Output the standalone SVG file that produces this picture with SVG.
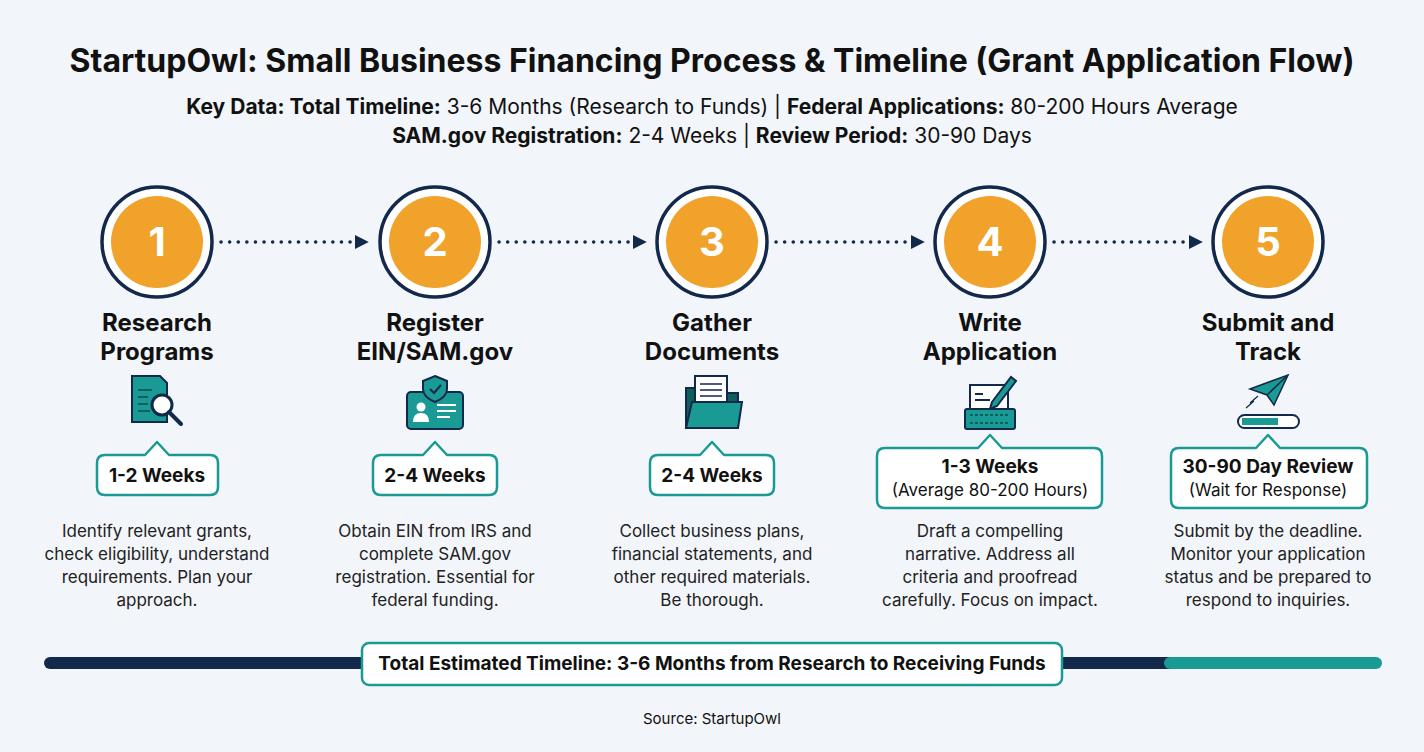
<svg xmlns="http://www.w3.org/2000/svg" width="1424" height="752" viewBox="0 0 1424 752">
<defs>
<style>
text{font-family:"Inter","Liberation Sans",sans-serif;fill:#111;text-anchor:middle}
.ring{fill:#fff;stroke:#13294B;stroke-width:3.5}
.core{fill:#F0A22B}
.num{font-size:40px;font-weight:700;fill:#fff}
.ttl{font-size:24px;font-weight:700}
.bdg{fill:#fff;stroke:#1A9A95;stroke-width:2.5;stroke-linejoin:round}
.bt{font-size:19px;font-weight:700}
.bs{font-size:17px}
.d{font-size:17px;fill:#222}
.conn{stroke:#13294B;stroke-width:3.5;stroke-dasharray:0.1 8.5;stroke-linecap:round;fill:none}
.ic{fill:#1A9A95;stroke:#13294B;stroke-width:2}
.il{stroke:#0E5E5B;stroke-width:2;fill:none}
</style>
<marker id="ah" viewBox="0 0 10 10" refX="8" refY="5" markerWidth="4" markerHeight="4" orient="auto"><path d="M0,0L10,5L0,10z" fill="#13294B"/></marker>
</defs>
<rect width="1424" height="752" fill="#F2F5F9"/>
<text x="712" y="72" style="font-size:32px;font-weight:700">StartupOwl: Small Business Financing Process &amp; Timeline (Grant Application Flow)</text>
<text x="712" y="114" style="font-size:21px"><tspan font-weight="700">Key Data: Total Timeline:</tspan> 3-6 Months (Research to Funds) | <tspan font-weight="700">Federal Applications:</tspan> 80-200 Hours Average</text>
<text x="712" y="143" style="font-size:21px"><tspan font-weight="700">SAM.gov Registration:</tspan> 2-4 Weeks | <tspan font-weight="700">Review Period:</tspan> 30-90 Days</text>

<g id="connectors">
<path class="conn" d="M221,242H366" marker-end="url(#ah)"/>
<path class="conn" d="M499,242H644" marker-end="url(#ah)"/>
<path class="conn" d="M776,242H922" marker-end="url(#ah)"/>
<path class="conn" d="M1054,242H1200" marker-end="url(#ah)"/>
</g>

<g id="step1">
<circle class="ring" cx="157" cy="242" r="55"/><circle class="core" cx="157" cy="242" r="46"/>
<text class="num" x="157" y="256">1</text>
<text class="ttl" x="157" y="331">Research</text><text class="ttl" x="157" y="360">Programs</text>
<path class="ic" d="M132,376H160L167,383V422H132Z"/>
<path class="il" d="M138,390H152M138,397H148M138,404H148M138,411H150"/>
<circle cx="162" cy="405" r="10" fill="#fff" stroke="#13294B" stroke-width="3"/>
<path d="M169,412L181,424" stroke="#13294B" stroke-width="4" stroke-linecap="round"/>
<path class="bdg" d="M105,455H145L157,442L169,455H210Q218,455 218,463V487Q218,495 210,495H105Q97,495 97,487V463Q97,455 105,455Z"/>
<text class="bt" x="157" y="482">1-2 Weeks</text>
<text class="d" x="157" y="537">Identify relevant grants,</text><text class="d" x="157" y="560">check eligibility, understand</text><text class="d" x="157" y="583">requirements. Plan your</text><text class="d" x="157" y="606">approach.</text>
</g>

<g id="step2">
<circle class="ring" cx="435" cy="242" r="55"/><circle class="core" cx="435" cy="242" r="46"/>
<text class="num" x="435" y="256">2</text>
<text class="ttl" x="435" y="331">Register</text><text class="ttl" x="435" y="360">EIN/SAM.gov</text>
<rect class="ic" x="407" y="392" width="56" height="37" rx="4"/>
<path d="M435,376L447,381V389Q447,397 435,402Q423,397 423,389V381Z" fill="#1A9A95" stroke="#13294B" stroke-width="2"/>
<path d="M430,389L434,393L441,385" stroke="#13294B" stroke-width="2" fill="none"/>
<circle cx="421" cy="407" r="4.5" fill="#fff"/><path d="M413,422Q413,413 421,413Q429,413 429,422Z" fill="#fff"/>
<path d="M437,405H456M437,411H456M437,417H450" stroke="#fff" stroke-width="2"/>
<path class="bdg" d="M381,455H423L435,442L447,455H489Q497,455 497,463V487Q497,495 489,495H381Q373,495 373,487V463Q373,455 381,455Z"/>
<text class="bt" x="435" y="482">2-4 Weeks</text>
<text class="d" x="435" y="537">Obtain EIN from IRS and</text><text class="d" x="435" y="560">complete SAM.gov</text><text class="d" x="435" y="583">registration. Essential for</text><text class="d" x="435" y="606">federal funding.</text>
</g>

<g id="step3">
<circle class="ring" cx="712" cy="242" r="55"/><circle class="core" cx="712" cy="242" r="46"/>
<text class="num" x="712" y="256">3</text>
<text class="ttl" x="712" y="331">Gather</text><text class="ttl" x="712" y="360">Documents</text>
<path d="M686,388H704L708,393H738V428H686Z" fill="#0E5E5B" stroke="#13294B" stroke-width="2"/>
<rect x="695" y="376" width="32" height="38" fill="#fff" stroke="#13294B" stroke-width="2"/>
<path d="M700,384H722M700,390H722M700,396H722M700,402H716" stroke="#13294B" stroke-width="1.5"/>
<path class="ic" d="M686,428L692,402H742L738,428Z"/>
<path class="bdg" d="M658,455H700L712,442L724,455H766Q774,455 774,463V487Q774,495 766,495H658Q650,495 650,487V463Q650,455 658,455Z"/>
<text class="bt" x="712" y="482">2-4 Weeks</text>
<text class="d" x="712" y="537">Collect business plans,</text><text class="d" x="712" y="560">financial statements, and</text><text class="d" x="712" y="583">other required materials.</text><text class="d" x="712" y="606">Be thorough.</text>
</g>

<g id="step4">
<circle class="ring" cx="990" cy="242" r="55"/><circle class="core" cx="990" cy="242" r="46"/>
<text class="num" x="990" y="256">4</text>
<text class="ttl" x="990" y="331">Write</text><text class="ttl" x="990" y="360">Application</text>
<rect x="970" y="385" width="38" height="28" fill="#fff" stroke="#13294B" stroke-width="2"/>
<path d="M975,394H983M975,400H990" stroke="#13294B" stroke-width="2"/>
<path d="M992,402L1011,377L1016,381L997,406L990,409Z" fill="#1A9A95" stroke="#13294B" stroke-width="2"/>
<rect class="ic" x="965" y="409" width="50" height="20" rx="2"/>
<path d="M970,415H1010M970,423H1010" stroke="#0E5E5B" stroke-width="2" stroke-dasharray="3 2"/>
<path class="bdg" d="M885,448H978L990,435L1002,448H1094Q1102,448 1102,456V500Q1102,508 1094,508H885Q877,508 877,500V456Q877,448 885,448Z"/>
<text class="bt" x="990" y="473">1-3 Weeks</text>
<text class="bs" x="990" y="496">(Average 80-200 Hours)</text>
<text class="d" x="990" y="537">Draft a compelling</text><text class="d" x="990" y="560">narrative. Address all</text><text class="d" x="990" y="583">criteria and proofread</text><text class="d" x="990" y="606">carefully. Focus on impact.</text>
</g>

<g id="step5">
<circle class="ring" cx="1268" cy="242" r="55"/><circle class="core" cx="1268" cy="242" r="46"/>
<text class="num" x="1268" y="256">5</text>
<text class="ttl" x="1268" y="331">Submit and</text><text class="ttl" x="1268" y="360">Track</text>
<path d="M1250,389L1288,375L1274,405L1267,395Z" fill="#1A9A95" stroke="#13294B" stroke-width="1.5"/>
<path d="M1267,395L1288,375" stroke="#13294B" stroke-width="1.5"/>
<path d="M1250,403L1258,396M1246,408L1254,401" stroke="#13294B" stroke-width="1.2"/>
<rect x="1238" y="415" width="61" height="13" rx="6.5" fill="#fff" stroke="#13294B" stroke-width="2"/>
<rect x="1242" y="418" width="36" height="7" fill="#1A9A95"/>
<path class="bdg" d="M1179,448H1256L1268,435L1280,448H1359Q1367,448 1367,456V500Q1367,508 1359,508H1179Q1171,508 1171,500V456Q1171,448 1179,448Z"/>
<text class="bt" x="1268" y="473">30-90 Day Review</text>
<text class="bs" x="1268" y="496">(Wait for Response)</text>
<text class="d" x="1268" y="537">Submit by the deadline.</text><text class="d" x="1268" y="560">Monitor your application</text><text class="d" x="1268" y="583">status and be prepared to</text><text class="d" x="1268" y="606">respond to inquiries.</text>
</g>

<g id="timeline">
<path d="M50,663H1170" stroke="#13294B" stroke-width="12" stroke-linecap="round"/>
<path d="M1170,663H1376" stroke="#1A9A95" stroke-width="12" stroke-linecap="round"/>
<rect x="362" y="643" width="700" height="42" rx="7" fill="#fff" stroke="#1A9A95" stroke-width="2.5"/>
<text x="712" y="670" style="font-size:19px;font-weight:700">Total Estimated Timeline: 3-6 Months from Research to Receiving Funds</text>
</g>
<text x="712" y="724" style="font-size:15px">Source: StartupOwl</text>
</svg>
